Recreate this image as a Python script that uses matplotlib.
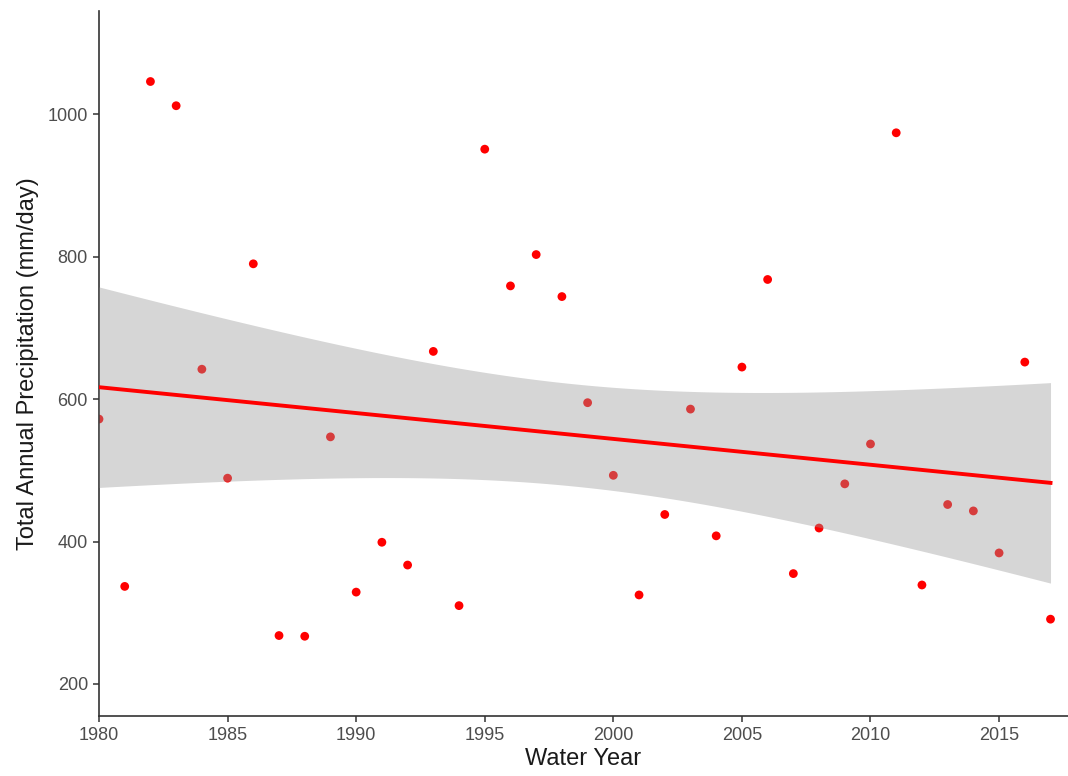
import numpy as np
import matplotlib.pyplot as plt

plt.rcParams['font.family'] = ['Liberation Sans', 'DejaVu Sans']

# total annual precipitation per water year
years = np.arange(1980, 2018)
precip = [572, 337, 1046, 1012, 642, 489, 790, 268, 267, 547,
          329, 399, 367, 667, 310, 951, 759, 803, 744, 595,
          493, 325, 438, 586, 408, 645, 768, 355, 419, 481,
          537, 974, 339, 452, 443, 384, 652, 291]
precip = np.array(precip, dtype=float)

# linear fit with 95% confidence band
n = len(years)
slope, intercept = np.polyfit(years, precip, 1)
xs = np.linspace(years.min(), years.max(), 200)
fit = slope * xs + intercept
resid = precip - (slope * years + intercept)
s = np.sqrt(np.sum(resid ** 2) / (n - 2))
sxx = np.sum((years - years.mean()) ** 2)
t_crit = 2.028  # t(0.975, df=36)
se = s * np.sqrt(1.0 / n + (xs - years.mean()) ** 2 / sxx)

fig = plt.figure(figsize=(10.68, 7.76), dpi=100)
ax = fig.add_axes([0.0927, 0.0773, 0.9073, 0.9085])

ax.scatter(years, precip, s=40, color='#ff0000', edgecolors='none', zorder=2, clip_on=True)
ax.fill_between(xs, fit - t_crit * se, fit + t_crit * se, color='#999999', alpha=0.4,
                linewidth=0, zorder=3)
ax.plot(xs, fit, color='#ff0000', linewidth=2.8, zorder=4)

ax.set_xlim(1980, 2017.68)
ax.set_ylim(155, 1145)
ax.set_xticks(np.arange(1980, 2016, 5))
ax.set_yticks([200, 400, 600, 800, 1000])

for side in ['top', 'right']:
    ax.spines[side].set_visible(False)
for side in ['left', 'bottom']:
    ax.spines[side].set_color('#333333')
    ax.spines[side].set_linewidth(1.2)
ax.tick_params(axis='both', colors='#333333', length=4, width=1.1, labelsize=13,
               labelcolor='#4d4d4d', pad=4)

ax.set_xlabel('Water Year', fontsize=17, color='#1a1a1a', labelpad=3)
ax.set_ylabel('Total Annual Precipitation (mm/day)', fontsize=17, color='#1a1a1a', labelpad=6)

fig.savefig('out.png', dpi=100)
